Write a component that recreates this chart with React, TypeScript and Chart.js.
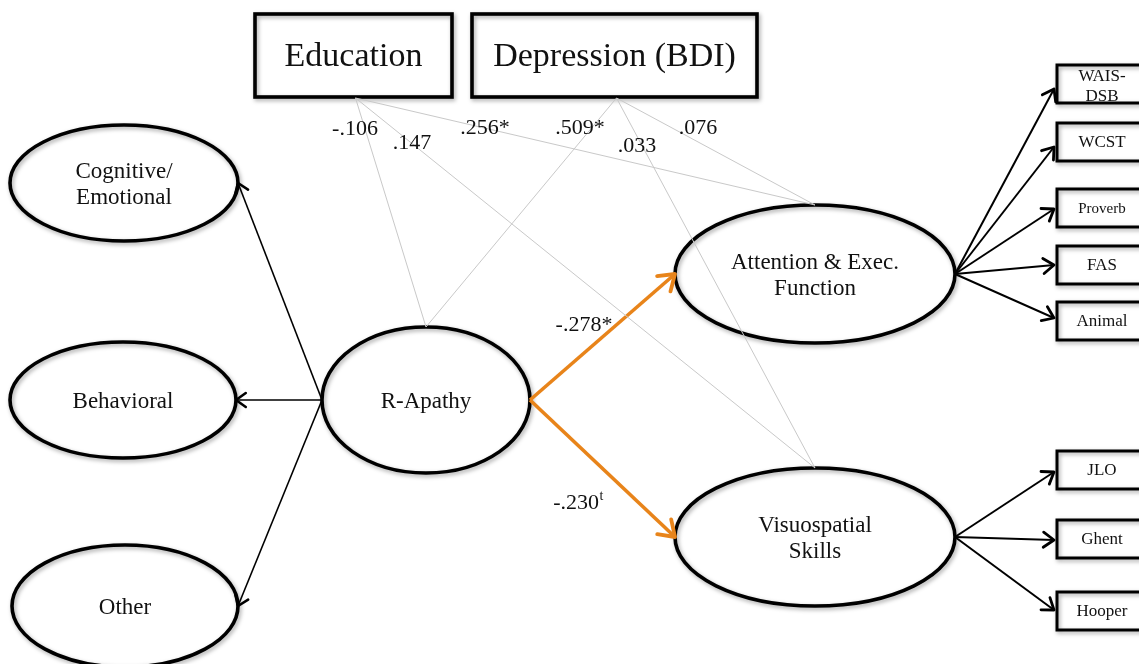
import React, { useEffect, useRef } from "react";
import { Chart, registerables } from "chart.js";

Chart.register(...registerables);

const WIDTH = 1139;
const HEIGHT = 664;

// ---------------- data ----------------
const covariateLabels = ["Education", "Depression (BDI)"];
const latentLabels = [
  "Cognitive/\nEmotional",
  "Behavioral",
  "Other",
  "R-Apathy",
  "Attention & Exec.\nFunction",
  "Visuospatial\nSkills",
];
const attentionIndicators = ["WAIS-\nDSB", "WCST", "Proverb", "FAS", "Animal"];
const visuospatialIndicators = ["JLO", "Ghent", "Hooper"];
const covariatePathFrom = [0, 0, 0, 1, 1, 1];
const covariatePathTo = [3, 5, 4, 3, 5, 4];
const covariateCoefficients = ["-.106", ".147", ".256*", ".509*", ".033", ".076"];
const structuralPathTo = [4, 5];
const structuralCoefficients = ["-.278*", "-.230"];
const structuralSuperscripts = ["", "t"];
const apathyFactorTargets = [0, 1, 2];

// ---------------- layout (diagram units) ----------------
const latentCX = [124, 123, 125, 426, 815, 815];
const latentCY = [183, 400, 606, 400, 274, 537];
const latentRX = [114, 113, 113, 104, 140, 140];
const latentRY = [58, 58, 61, 73, 69, 69];
const covBoxLeft = [255, 472];
const covBoxWidth = [197, 285];
const COV_BOX_TOP = 14;
const COV_BOX_H = 83;
const IND_BOX_LEFT = 1057;
const IND_BOX_W = 92;
const IND_BOX_H = 38;
const attentionIndicatorY = [84, 142, 208, 265, 321];
const attentionTipY = [89, 147, 209, 265, 318];
const visuoIndicatorY = [470, 539, 611];
const visuoTipY = [472, 540, 610];
const covLabelX = [355, 412, 485, 580, 637, 698];
const covLabelY = [129, 143, 128, 128, 146, 128];
const structLabelX = [584, 578];
const structLabelY = [325, 503];

const FONT = '"Liberation Serif", "Times New Roman", serif';
const GREY = "#c9c9c9";
const ORANGE = "#E8841A";

type Pt = { x: number; y: number };

const latentAnchor = (i: number, side: "left" | "right" | "top"): Pt => {
  if (side === "left") return { x: latentCX[i] - latentRX[i], y: latentCY[i] };
  if (side === "right") return { x: latentCX[i] + latentRX[i], y: latentCY[i] };
  return { x: latentCX[i], y: latentCY[i] - latentRY[i] };
};

function buildDatasets() {
  const ds: any[] = [];
  covariatePathFrom.forEach((c, k) => {
    const from = { x: covBoxLeft[c] + covBoxWidth[c] / 2 + 2, y: COV_BOX_TOP + COV_BOX_H + 1 };
    const to = latentAnchor(covariatePathTo[k], "top");
    ds.push({ data: [from, to], borderColor: GREY, borderWidth: 1, arrow: null });
  });
  apathyFactorTargets.forEach((t) => {
    ds.push({
      data: [latentAnchor(3, "left"), latentAnchor(t, "right")],
      borderColor: "#000",
      borderWidth: 1.6,
      arrow: { len: 12, ang: 0.62, lw: 2.6, color: "#000" },
    });
  });
  structuralPathTo.forEach((t) => {
    ds.push({
      data: [latentAnchor(3, "right"), latentAnchor(t, "left")],
      borderColor: ORANGE,
      borderWidth: 3.6,
      arrow: { len: 18, ang: 0.6, lw: 3.8, color: ORANGE },
    });
  });
  attentionTipY.forEach((y) => {
    ds.push({
      data: [latentAnchor(4, "right"), { x: IND_BOX_LEFT - 3, y }],
      borderColor: "#000",
      borderWidth: 2,
      arrow: { len: 13, ang: 0.62, lw: 2.8, color: "#000" },
    });
  });
  visuoTipY.forEach((y) => {
    ds.push({
      data: [latentAnchor(5, "right"), { x: IND_BOX_LEFT - 3, y }],
      borderColor: "#000",
      borderWidth: 2,
      arrow: { len: 13, ang: 0.62, lw: 2.8, color: "#000" },
    });
  });
  return ds.map((d) => ({
    ...d,
    showLine: true,
    pointRadius: 0,
    pointHoverRadius: 0,
    fill: false,
    tension: 0,
    borderCapStyle: "butt",
  }));
}

function multiline(ctx: CanvasRenderingContext2D, text: string, x: number, y: number, lh: number) {
  const lines = text.split("\n");
  const start = y - ((lines.length - 1) * lh) / 2;
  lines.forEach((l, i) => ctx.fillText(l, x, start + i * lh));
}

const diagramPlugin = {
  id: "diagram",
  beforeDatasetsDraw(chart: any) {
    const ctx: CanvasRenderingContext2D = chart.ctx;
    const xs = chart.scales.x;
    const ys = chart.scales.y;
    const px = (v: number) => xs.getPixelForValue(v);
    const py = (v: number) => ys.getPixelForValue(v);

    ctx.save();
    ctx.fillStyle = "#fff";
    ctx.fillRect(0, 0, chart.width, chart.height);
    ctx.restore();

    const shadowed = (fn: () => void, lw: number) => {
      ctx.save();
      ctx.shadowColor = "rgba(0,0,0,0.35)";
      ctx.shadowBlur = 4;
      ctx.shadowOffsetX = 1.5;
      ctx.shadowOffsetY = 2;
      ctx.lineWidth = lw;
      ctx.strokeStyle = "#000";
      fn();
      ctx.restore();
    };

    latentLabels.forEach((_, i) => {
      const cx = px(latentCX[i]);
      const cy = py(latentCY[i]);
      const rx = Math.abs(px(latentCX[i] + latentRX[i]) - cx);
      const ry = Math.abs(py(latentCY[i] + latentRY[i]) - cy);
      ctx.save();
      ctx.beginPath();
      ctx.ellipse(cx, cy, rx, ry, 0, 0, Math.PI * 2);
      ctx.fillStyle = "#fff";
      ctx.fill();
      ctx.restore();
      shadowed(() => {
        ctx.beginPath();
        ctx.ellipse(cx, cy, rx, ry, 0, 0, Math.PI * 2);
        ctx.stroke();
      }, 3.6);
    });

    covariateLabels.forEach((_, i) => {
      const x0 = px(covBoxLeft[i]);
      const x1 = px(covBoxLeft[i] + covBoxWidth[i]);
      const y0 = py(COV_BOX_TOP);
      const y1 = py(COV_BOX_TOP + COV_BOX_H);
      ctx.save();
      ctx.fillStyle = "#fff";
      ctx.fillRect(x0, y0, x1 - x0, y1 - y0);
      ctx.restore();
      shadowed(() => ctx.strokeRect(x0, y0, x1 - x0, y1 - y0), 3.6);
    });

    [...attentionIndicatorY, ...visuoIndicatorY].forEach((yc) => {
      const x0 = px(IND_BOX_LEFT);
      const x1 = px(IND_BOX_LEFT + IND_BOX_W);
      const y0 = py(yc - IND_BOX_H / 2);
      const y1 = py(yc + IND_BOX_H / 2);
      ctx.save();
      ctx.fillStyle = "#fff";
      ctx.fillRect(x0, y0, x1 - x0, y1 - y0);
      ctx.restore();
      shadowed(() => ctx.strokeRect(x0, y0, x1 - x0, y1 - y0), 3);
    });
  },
  afterDatasetsDraw(chart: any) {
    const ctx: CanvasRenderingContext2D = chart.ctx;
    const xs = chart.scales.x;
    const ys = chart.scales.y;
    const px = (v: number) => xs.getPixelForValue(v);
    const py = (v: number) => ys.getPixelForValue(v);

    chart.data.datasets.forEach((d: any, i: number) => {
      if (!d.arrow) return;
      const meta = chart.getDatasetMeta(i);
      const a = meta.data[0];
      const b = meta.data[1];
      const th = Math.atan2(b.y - a.y, b.x - a.x);
      const { len, ang, lw, color } = d.arrow;
      ctx.save();
      ctx.strokeStyle = color;
      ctx.lineWidth = lw;
      ctx.lineCap = "round";
      ctx.lineJoin = "round";
      ctx.beginPath();
      ctx.moveTo(b.x - len * Math.cos(th - ang), b.y - len * Math.sin(th - ang));
      ctx.lineTo(b.x, b.y);
      ctx.lineTo(b.x - len * Math.cos(th + ang), b.y - len * Math.sin(th + ang));
      ctx.stroke();
      ctx.restore();
    });

    ctx.save();
    ctx.fillStyle = "#111";
    ctx.textAlign = "center";
    ctx.textBaseline = "middle";

    ctx.font = `34px ${FONT}`;
    covariateLabels.forEach((l, i) => {
      ctx.fillText(l, px(covBoxLeft[i] + covBoxWidth[i] / 2), py(COV_BOX_TOP + COV_BOX_H / 2 + 2));
    });

    ctx.font = `23px ${FONT}`;
    latentLabels.forEach((l, i) => {
      multiline(ctx, l, px(latentCX[i]), py(latentCY[i] + 2), 26);
    });

    ctx.font = `22px ${FONT}`;
    covariateCoefficients.forEach((c, k) => {
      ctx.fillText(c, px(covLabelX[k]), py(covLabelY[k]));
    });
    structuralCoefficients.forEach((c, k) => {
      ctx.font = `22px ${FONT}`;
      const sup = structuralSuperscripts[k];
      const w = ctx.measureText(c).width;
      ctx.font = `14px ${FONT}`;
      const ws = sup ? ctx.measureText(sup).width : 0;
      const left = px(structLabelX[k]) - (w + ws) / 2;
      ctx.textAlign = "left";
      ctx.font = `22px ${FONT}`;
      ctx.fillText(c, left, py(structLabelY[k]));
      if (sup) {
        ctx.font = `14px ${FONT}`;
        ctx.fillText(sup, left + w + 0.5, py(structLabelY[k] - 7));
      }
      ctx.textAlign = "center";
    });

    const indLabels = [...attentionIndicators, ...visuospatialIndicators];
    const indY = [...attentionIndicatorY, ...visuoIndicatorY];
    indLabels.forEach((l, i) => {
      ctx.font = l === "Proverb" ? `15px ${FONT}` : `17px ${FONT}`;
      const multi = l.includes("\n");
      multiline(ctx, l, px(IND_BOX_LEFT + 45), py(indY[i] + (multi ? 3 : 1)), 20);
    });
    ctx.restore();
  },
};

export default function App() {
  const ref = useRef<HTMLCanvasElement | null>(null);
  useEffect(() => {
    if (!ref.current) return;
    const chart = new Chart(ref.current, {
      type: "scatter",
      data: { datasets: buildDatasets() },
      options: {
        animation: false,
        responsive: true,
        maintainAspectRatio: false,
        events: [],
        layout: { padding: 0 },
        plugins: { legend: { display: false }, tooltip: { enabled: false } },
        scales: {
          x: { type: "linear", min: 0, max: WIDTH, display: false },
          y: { type: "linear", min: 0, max: HEIGHT, reverse: true, display: false },
        },
      },
      plugins: [diagramPlugin],
    } as any);
    return () => chart.destroy();
  }, []);
  return (
    <div style={{ position: "absolute", left: 0, top: 0, width: WIDTH, height: HEIGHT, background: "#fff" }}>
      <canvas ref={ref} />
    </div>
  );
}
